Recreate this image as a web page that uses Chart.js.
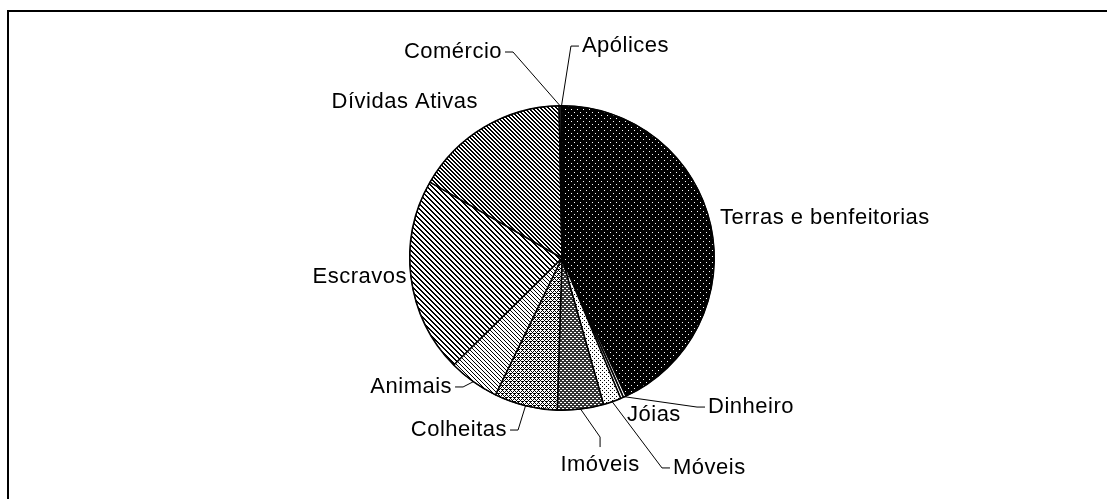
<!DOCTYPE html>
<html>
<head>
<meta charset="utf-8">
<script src="https://cdn.jsdelivr.net/npm/chart.js@4.4.0/dist/chart.umd.min.js"></script>
<style>
  body { margin: 0; background: #fff; }
  canvas { display: block; }
</style>
</head>
<body>
<canvas id="myChart" width="1107" height="499"></canvas>
<script>
const categories = [
  "Terras e benfeitorias",
  "Dinheiro",
  "Jóias",
  "Móveis",
  "Imóveis",
  "Colheitas",
  "Animais",
  "Escravos",
  "Dívidas Ativas",
  "Comércio",
  "Apólices",
];
// share of the total (%)
const shares = [43.1, 0.3, 0.3, 1.9, 4.9, 6.7, 5.4, 20.7, 16.4, 0.2, 0.1];

// where each label sits, in pie radii from the centre
const labelSpots = [
  { kx: 1.038, ky: -0.263, align: "left", leader: false },
  { kx: 0.959, ky: 0.979, align: "left", leader: true },
  { kx: 0.427, ky: 1.031, align: "left", leader: false },
  { kx: 0.729, ky: 1.379, align: "left", leader: true },
  { kx: 0.25, ky: 1.36, align: "center", leader: true },
  { kx: -0.361, ky: 1.13, align: "right", leader: true },
  { kx: -0.722, ky: 0.847, align: "right", leader: true },
  { kx: -1.018, ky: 0.125, align: "right", leader: false },
  { kx: -0.552, ky: -1.025, align: "right", leader: false },
  { kx: -0.394, ky: -1.353, align: "right", leader: true },
  { kx: 0.131, ky: -1.392, align: "left", leader: true },
];

function tile(size, bg, fg, ink) {
  let c = document.createElement("canvas");
  c.width = size;
  c.height = size;
  let g = c.getContext("2d");
  g.fillStyle = bg;
  g.fillRect(0, 0, size, size);
  g.fillStyle = fg;
  for (let y = 0; y < size; y++) {
    for (let x = 0; x < size; x++) {
      if (ink(x, y)) g.fillRect(x, y, 1, 1);
    }
  }
  return g.createPattern(c, "repeat");
}
const mod = (a, n) => ((a % n) + n) % n;

const fills = [
  tile(6, "#000", "#fff", (x, y) => (x == 1 && y == 1) || (x == 4 && y == 4)),
  "#fff",
  "#fff",
  tile(4, "#fff", "#000", (x, y) => (x == 0 && y == 0) || (x == 2 && y == 2)),
  tile(4, "#fff", "#333", (x, y) => mod(x + y, 4) < 2 || mod(x - y, 4) < 2),
  tile(4, "#fff", "#000", (x, y) => mod(x + y, 4) == 0 || mod(x - y, 4) == 0 || (x == 2 && y == 1)),
  tile(4, "#fff", "#000", (x, y) => mod(x - y, 4) == 0),
  tile(5, "#fff", "#000", (x, y) => mod(x - y, 5) < 2),
  tile(4, "#fff", "#000", (x, y) => mod(x - y, 4) < 2),
  "#fff",
  "#fff",
];

const pieLabels = {
  id: "pieLabels",
  beforeDraw(chart) {
    const ctx = chart.ctx;
    ctx.save();
    ctx.strokeStyle = "#000";
    ctx.lineWidth = 2;
    ctx.beginPath();
    ctx.moveTo(8, chart.height);
    ctx.lineTo(8, 11);
    ctx.lineTo(chart.width, 11);
    ctx.stroke();
    ctx.restore();
  },
  afterDatasetsDraw(chart) {
    const ctx = chart.ctx;
    const arcs = chart.getDatasetMeta(0).data;
    ctx.save();
    ctx.font = '22px "Liberation Sans", Arial, sans-serif';
    ctx.letterSpacing = "0.5px";
    ctx.fillStyle = "#000";
    ctx.strokeStyle = "#000";
    ctx.textBaseline = "middle";
    let cx = 0, cy = 0, R = 0;
    arcs.forEach((arc, i) => {
      const p = arc.getProps(["x", "y", "startAngle", "endAngle", "outerRadius"], true);
      cx = p.x; cy = p.y; R = p.outerRadius;
      const spot = labelSpots[i];
      const lx = p.x + spot.kx * R;
      const ly = p.y + spot.ky * R;
      ctx.textAlign = spot.align;
      ctx.fillText(categories[i], lx, ly);
      if (spot.leader) {
        const mid = (p.startAngle + p.endAngle) / 2;
        const ex = p.x + Math.cos(mid) * R;
        const ey = p.y + Math.sin(mid) * R;
        let a, b;
        if (spot.align == "left") { a = [lx - 3, ly]; b = [lx - 11, ly]; }
        else if (spot.align == "right") { a = [lx + 3, ly]; b = [lx + 11, ly]; }
        else { a = [lx, ly - 18]; b = [lx, ly - 28]; }
        ctx.lineWidth = 1;
        ctx.beginPath();
        ctx.moveTo(a[0], a[1]);
        ctx.lineTo(b[0], b[1]);
        ctx.lineTo(ex, ey);
        ctx.stroke();
      }
    });
    ctx.lineWidth = 1;
    ctx.beginPath();
    ctx.arc(cx, cy, R, 0, Math.PI * 2);
    ctx.stroke();
    ctx.restore();
  },
};

new Chart("myChart", {
  type: "pie",
  data: {
    labels: categories,
    datasets: [
      {
        data: shares,
        backgroundColor: fills,
        borderColor: "#000",
        borderWidth: 1.5,
        hoverOffset: 0,
      },
    ],
  },
  options: {
    responsive: false,
    animation: false,
    events: [],
    layout: { padding: { left: 409, right: 392, top: 105, bottom: 88 } },
    plugins: {
      legend: { display: false },
      tooltip: { enabled: false },
      title: { display: false },
    },
  },
  plugins: [pieLabels],
});
</script>
</body>
</html>
